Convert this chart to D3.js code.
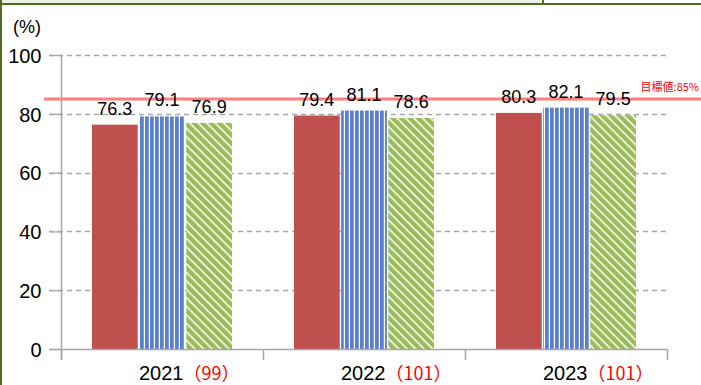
<!DOCTYPE html>
<html><head><meta charset="utf-8">
<script src="https://cdn.jsdelivr.net/npm/d3@7"></script>
<style>html,body{margin:0;padding:0;background:#fff;overflow:hidden}svg{display:block}</style>
</head><body>
<svg id="c" width="701" height="385"></svg>
<script>
const categories = ["2021", "2022", "2023"];
const categoryCounts = ["（99）", "（101）", "（101）"];
const seriesNames = ["A", "B", "C"];
const seriesA = [76.3, 79.4, 80.3];
const seriesB = [79.1, 81.1, 82.1];
const seriesC = [76.9, 78.6, 79.5];
const yTicks = [0, 20, 40, 60, 80, 100];
const targetValue = 85;
const targetLabel = "目標値:85%";
const yUnit = "(%)";

const svg = d3.select("#c");
const font = "'Liberation Sans', Arial, 'Noto Sans CJK JP', sans-serif";
const defs = svg.append("defs");

// Frame
svg.append("rect").attr("x",0).attr("y",0).attr("width",543).attr("height",4).attr("fill","#ebf1de");
svg.append("line").attr("x1",0).attr("x2",701).attr("y1",4).attr("y2",4).attr("stroke","#4f6b28").attr("stroke-width",2);
svg.append("line").attr("x1",1).attr("x2",1).attr("y1",0).attr("y2",385).attr("stroke","#4f6b28").attr("stroke-width",2);
svg.append("line").attr("x1",543).attr("x2",543).attr("y1",0).attr("y2",5).attr("stroke","#4f6b28").attr("stroke-width",2);

// Patterns
const pb = defs.append("pattern").attr("id","pBlue").attr("patternUnits","userSpaceOnUse").attr("width",5).attr("height",10);
pb.append("rect").attr("width",5).attr("height",10).attr("fill","#5b7fcf");
pb.append("rect").attr("x",3.8).attr("width",1.2).attr("height",10).attr("fill","#fff");
const pg = defs.append("pattern").attr("id","pGreen").attr("patternUnits","userSpaceOnUse").attr("width",6).attr("height",6).attr("patternTransform","rotate(45)");
pg.append("rect").attr("width",6).attr("height",6).attr("fill","#9bbb59");
pg.append("rect").attr("y",0).attr("width",6).attr("height",1.5).attr("fill","#fff");

const y = d3.scaleLinear().domain([0,100]).range([349,55]);
const x0 = d3.scaleBand().domain(categories).range([61,667]).paddingInner(0);
const x1 = d3.scaleBand().domain(seriesNames).range([-70,70]).paddingInner(0.03);
const fills = {A:"#c0504d", B:"url(#pBlue)", C:"url(#pGreen)"};
const seriesVals = {A:seriesA, B:seriesB, C:seriesC};

// Gridlines
svg.append("g").selectAll("line").data(yTicks.filter(d=>d>0)).join("line")
  .attr("x1",49).attr("x2",667).attr("y1",d=>Math.round(y(d))+0.5).attr("y2",d=>Math.round(y(d))+0.5)
  .attr("stroke","#a6a6a6").attr("stroke-width",1.3).attr("stroke-dasharray","5,4");

// Y axis
const yAxis = d3.axisLeft(y).tickValues(yTicks).tickSize(12).tickPadding(8);
const gy = svg.append("g").attr("transform","translate(61.5,0)").call(yAxis);
gy.select(".domain").remove();
gy.selectAll(".tick line").attr("stroke","#a6a6a6").attr("stroke-width",1.3);
gy.selectAll(".tick text").attr("font-family",font).attr("font-size",20).attr("fill","#000").attr("dy","0.36em");
svg.append("line").attr("x1",61.5).attr("x2",61.5).attr("y1",55).attr("y2",360).attr("stroke","#a6a6a6").attr("stroke-width",1.5);
svg.append("text").attr("x",13).attr("y",33).attr("font-family",font).attr("font-size",18).text(yUnit);

// Bars
const gBars = svg.append("g");
categories.forEach((c,i)=>{
  seriesNames.forEach(s=>{
    const v = seriesVals[s][i];
    const bx = x0(c) + x0.bandwidth()/2 + x1(s);
    gBars.append("rect").attr("x",bx).attr("y",y(v)).attr("width",x1.bandwidth()).attr("height",y(0)-y(v))
      .attr("fill",fills[s]);
  });
});

// X axis
svg.append("line").attr("x1",49).attr("x2",667).attr("y1",349.5).attr("y2",349.5).attr("stroke","#a6a6a6").attr("stroke-width",1.5);
const bounds = categories.map(c=>x0(c)).concat([x0.range()[1]]);
svg.append("g").selectAll("line").data(bounds).join("line")
  .attr("x1",d=>Math.round(d)+0.5).attr("x2",d=>Math.round(d)+0.5).attr("y1",349).attr("y2",360)
  .attr("stroke","#a6a6a6").attr("stroke-width",1.5);

// X labels
const xl = svg.append("g").selectAll("text").data(categories).join("text")
  .attr("x",d=>x0(d)+x0.bandwidth()/2-23).attr("y",380)
  .attr("font-family",font).attr("font-size",20).attr("fill","#000");
xl.append("tspan").text(d=>d);
xl.append("tspan").attr("fill","#ff0000").attr("font-family","'Noto Sans CJK JP', sans-serif").attr("font-size",18).text((d,i)=>categoryCounts[i]);

// Target line
svg.append("line").attr("x1",44).attr("x2",701).attr("y1",y(targetValue)).attr("y2",y(targetValue))
  .attr("stroke","#ff7c80").attr("stroke-width",3);
svg.append("text").attr("x",699).attr("y",91).attr("text-anchor","end").attr("font-family","'Noto Sans CJK JP', sans-serif")
  .attr("font-size",11).attr("fill","#ff0000").text(targetLabel);

// Data labels
const gl = svg.append("g");
categories.forEach((c,i)=>{
  seriesNames.forEach(s=>{
    const v = seriesVals[s][i];
    const cx = x0(c) + x0.bandwidth()/2 + x1(s) + x1.bandwidth()/2;
    gl.append("text").attr("x",cx).attr("y",y(v)-10).attr("text-anchor","middle")
      .attr("font-family",font).attr("font-size",18).attr("fill","#000").text(v.toFixed(1));
  });
});
</script>
</body></html>
